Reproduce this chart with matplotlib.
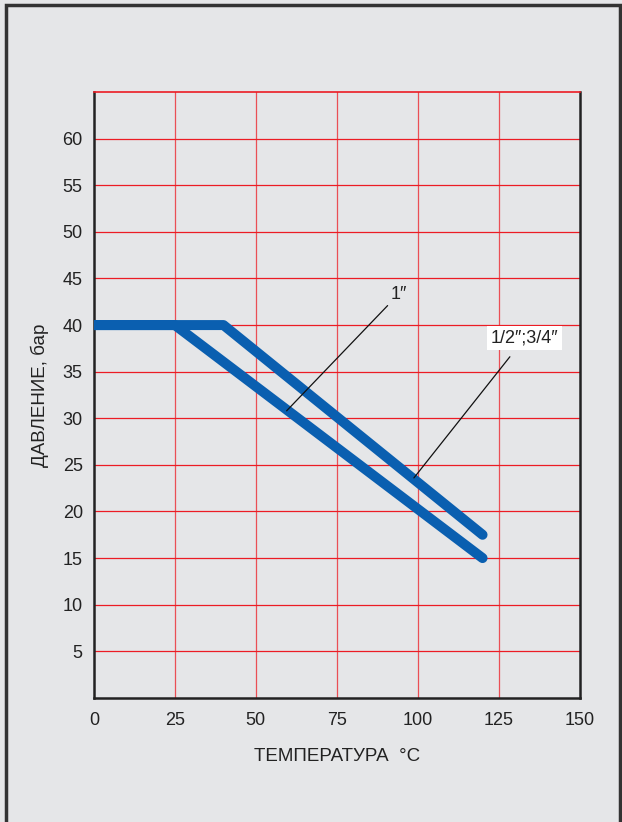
import matplotlib
matplotlib.use('Agg')
import matplotlib.pyplot as plt
from matplotlib.patches import Rectangle

# ===================== DATA =====================
temp_1in = [0, 25, 120]
press_1in = [40, 40, 15]

temp_half = [0, 40, 120]
press_half = [40, 40, 17.5]

x_ticks = [0, 25, 50, 75, 100, 125, 150]
y_ticks = [5, 10, 15, 20, 25, 30, 35, 40, 45, 50, 55, 60]

label_1in = "1″"
label_half = "1/2″;3/4″"

# ===================== STYLE =====================
plt.rcParams['font.family'] = ['Liberation Sans', 'DejaVu Sans']
BG = "#e5e6e8"
BLUE = "#0a5fb0"
RED = "#ec1c24"

fig = plt.figure(figsize=(6.22, 8.22), dpi=100, facecolor=BG)
fig.patches.append(Rectangle((6 / 622, -0.05), 614 / 622, 1.05 - 5 / 822,
                             transform=fig.transFigure, fill=False,
                             edgecolor="#333333", linewidth=2.5))

ax = fig.add_axes([0.151, 0.151, 0.781, 0.737], facecolor=BG)
ax.set_xlim(0, 150)
ax.set_ylim(0, 65)

# grid
for x in x_ticks[1:-1]:
    ax.axvline(x, color=RED, linewidth=0.9, alpha=0.75, zorder=1)
for y in y_ticks:
    ax.axhline(y, color=RED, linewidth=0.9, zorder=1)

ax.spines['top'].set_color(RED)
ax.spines['top'].set_linewidth(1.2)
for s in ['left', 'bottom', 'right']:
    ax.spines[s].set_color("#222222")
    ax.spines[s].set_linewidth(1.8)

# curves
ax.plot(temp_1in, press_1in, color=BLUE, linewidth=7.2,
        solid_capstyle='round', solid_joinstyle='round', zorder=3)
ax.plot(temp_half, press_half, color=BLUE, linewidth=7.2,
        solid_capstyle='round', solid_joinstyle='round', zorder=3)

# annotations
ax.annotate(label_1in, xy=(59.5, 30.8), xytext=(91.5, 43.3),
            fontsize=13, color="#222222", ha='left', va='center',
            arrowprops=dict(arrowstyle='-', color='#111111', lw=0.9,
                            shrinkA=0, shrinkB=0), zorder=4)
ax.annotate(label_half, xy=(98.8, 23.6), xytext=(133, 38.6),
            fontsize=13, color="#222222", ha='center', va='center',
            bbox=dict(boxstyle='square,pad=0.2', facecolor='white',
                      edgecolor='none'),
            arrowprops=dict(arrowstyle='-', color='#111111', lw=0.9,
                            shrinkA=6, shrinkB=0), zorder=4)

ax.set_xticks(x_ticks)
ax.set_yticks(y_ticks)
ax.tick_params(length=0, labelsize=13, colors="#222222", pad=10)
ax.tick_params(axis='y', pad=8)

ax.set_xlabel("ТЕМПЕРАТУРА  °C", fontsize=13.5, color="#222222", labelpad=14)
ax.set_ylabel("ДАВЛЕНИЕ, бар", fontsize=13.5, color="#222222", labelpad=10)

plt.savefig("out.png", dpi=100, facecolor=BG)
plt.close()
